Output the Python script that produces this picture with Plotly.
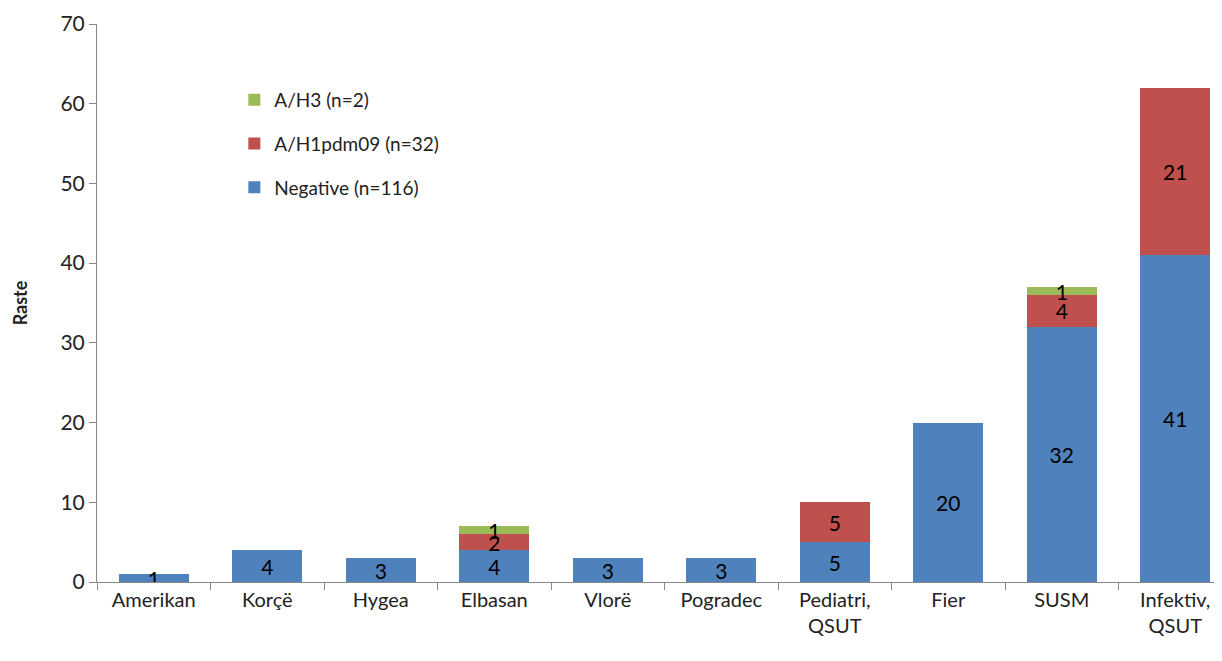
import plotly.graph_objects as go

categories = ["Amerikan", "Korçë", "Hygea", "Elbasan", "Vlorë", "Pogradec",
              "Pediatri,<br>QSUT", "Fier", "SUSM", "Infektiv,<br>QSUT"]
negative = [1, 4, 3, 4, 3, 3, 5, 20, 32, 41]
h1pdm09 = [0, 0, 0, 2, 0, 0, 5, 0, 4, 21]
h3 = [0, 0, 0, 1, 0, 0, 0, 0, 1, 0]

series = [
    ("Negative (n=116)", negative, "#4F81BD"),
    ("A/H1pdm09 (n=32)", h1pdm09, "#C0504D"),
    ("A/H3 (n=2)", h3, "#9BBB59"),
]

FONT = "Lato, Open Sans, sans-serif"

fig = go.Figure()
for i, (name, vals, color) in enumerate(series):
    fig.add_trace(go.Bar(
        x=categories, y=vals, name=name, legendgroup=str(i),
        legendrank=len(series) - i,
        marker=dict(color=color, line=dict(width=0)),
        text=[str(v) if v else "" for v in vals],
        textposition="inside", insidetextanchor="middle", textangle=0,
        textfont=dict(color="black", size=21, family=FONT),
        constraintext="none",
    ))

fig.update_layout(
    barmode="stack", bargap=0.38,
    width=1226, height=645,
    margin=dict(l=89, r=2, t=16, b=71),
    plot_bgcolor="white", paper_bgcolor="white",
    font=dict(family=FONT, size=19, color="#222"),
    uniformtext=dict(mode="show", minsize=21),
    legend=dict(x=0.121, y=0.898, xanchor="left", yanchor="top",
                traceorder="grouped", tracegroupgap=16,
                font=dict(size=19, family=FONT), bgcolor="rgba(0,0,0,0)"),
    yaxis=dict(range=[0, 70], dtick=10, showgrid=False, zeroline=False,
               showline=True, linecolor="#888", linewidth=1,
               ticks="outside", ticklen=7, tickcolor="#888",
               tickfont=dict(size=21),
               title=dict(text="<b>Raste</b>", font=dict(size=18), standoff=28)),
    xaxis=dict(showline=True, linecolor="#888", linewidth=1,
               ticks="outside", ticklen=7, tickcolor="#888",
               tickson="boundaries", tickfont=dict(size=20)),
)

fig.write_html("out.html")
